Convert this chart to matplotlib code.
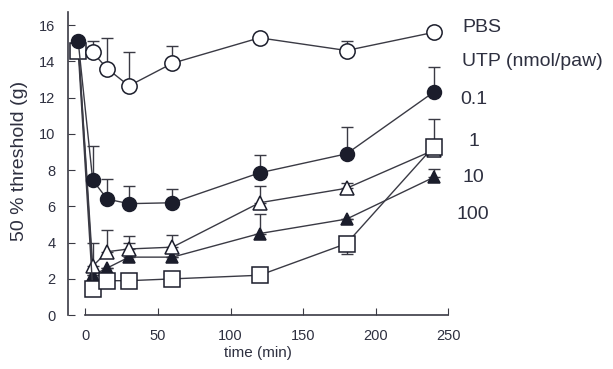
import numpy as np
import matplotlib.pyplot as plt

plt.rcParams.update({"font.family": ["Liberation Sans", "DejaVu Sans"], "font.size": 11})

# time points (min); baseline plotted just before injection
time = [-5, 5, 15, 30, 60, 120, 180, 240]
time_pbs = [5, 15, 30, 60, 120, 180, 240]

pbs = [14.5, 13.6, 12.65, 13.9, 15.3, 14.6, 15.6]
pbs_err = [0.6, 1.7, 1.85, 0.95, 0.0, 0.5, 0.0]

utp01 = [15.1, 7.45, 6.4, 6.15, 6.2, 7.85, 8.9, 12.3]
utp01_err = [0.0, 1.9, 1.1, 0.95, 0.75, 1.0, 1.5, 1.4]

utp1 = [15.0, 2.7, 3.5, 3.65, 3.75, 6.2, 7.0, 9.1]
utp1_err = [0.0, 1.3, 1.2, 0.7, 0.65, 0.9, 0.3, 0.0]

utp10 = [15.0, 2.2, 2.6, 3.2, 3.2, 4.5, 5.3, 7.6]
utp10_err = [0.0, 0.0, 0.0, 0.8, 0.0, 1.1, 0.0, 0.45]

utp100 = [14.6, 1.45, 1.9, 1.9, 2.0, 2.2, 3.95, 9.3]
utp100_err = [0.0, 0.0, 0.0, 0.0, 0.0, 0.0, -0.6, 1.5]

labels = ["PBS", "UTP (nmol/paw)", "0.1", "1", "10", "100"]

ink = "#1b1d2b"
line_c = "#3a3a44"
text_c = "#2e3040"

fig = plt.figure(figsize=(6.13, 3.69), dpi=100)
ax = fig.add_axes([0.111, 0.146, 0.62, 0.835])


def series(x, y, err, marker, face, ms, z):
    err = np.array(err)
    lo = np.where(err < 0, -err, 0)
    hi = np.where(err > 0, err, 0)
    ax.errorbar(x, y, yerr=[lo, hi], fmt="none", ecolor=line_c, elinewidth=1,
                capsize=4, capthick=1, zorder=z - 1)
    ax.plot(x, y, color=line_c, lw=1, marker=marker, ms=ms, mfc=face,
            mec=ink, mew=1.1, zorder=z)


series(time, utp10, utp10_err, "^", ink, 9, 5)
series(time, utp1, utp1_err, "^", "white", 10, 6)
series(time, utp100, utp100_err, "s", "white", 11, 8)
series(time, utp01, utp01_err, "o", ink, 10, 10)
series(time_pbs, pbs, pbs_err, "o", "white", 11, 12)

ax.set_xlim(-12, 250)
ax.set_ylim(0, 17)
ax.spines["top"].set_visible(False)
ax.spines["right"].set_visible(False)
ax.spines["left"].set_bounds(0, 16.7)
ax.spines["bottom"].set_bounds(0, 250)
for s in ("left", "bottom"):
    ax.spines[s].set_color(line_c)
    ax.spines[s].set_linewidth(1.2)

ax.set_xticks([0, 50, 100, 150, 200, 250])
ax.set_yticks(range(0, 17, 2))
ax.tick_params(direction="in", length=5, color=line_c, labelcolor=text_c, labelsize=10.5)
ax.tick_params(axis="x", pad=10)
ax.tick_params(axis="y", pad=9)
ax.set_xlabel("time (min)", color=text_c, fontsize=11, labelpad=2)
ax.set_ylabel("50 % threshold (g)", color=text_c, fontsize=14, labelpad=8)

# label positions in figure pixels (x, y from top)
label_px = [(462, 27), (462, 62), (460, 100), (469, 141), (462, 178), (457, 215)]
for lab, (px, py) in zip(labels, label_px):
    fig.text(px / 613, 1 - py / 369, lab, color=text_c, fontsize=14, va="center")

fig.savefig("out.png", dpi=100)
